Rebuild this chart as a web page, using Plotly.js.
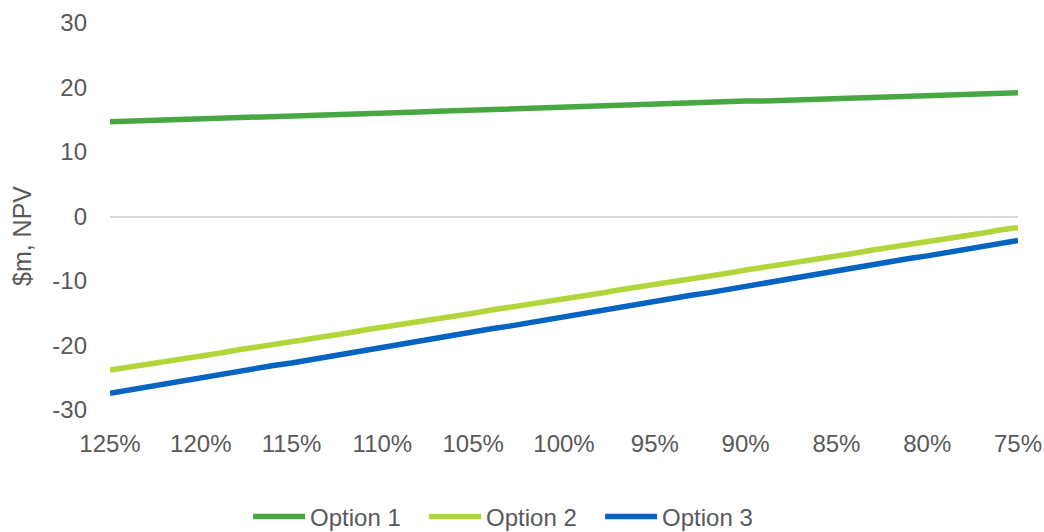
<!DOCTYPE html>
<html>
<head>
<meta charset="utf-8">
<script src="https://cdn.plot.ly/plotly-3.0.1.min.js"></script>
<style>
  html, body { margin: 0; padding: 0; background: #ffffff; }
  #chart { width: 1044px; height: 532px; }
</style>
</head>
<body>
<div id="chart"></div>
<script>
// Sensitivity of NPV to the cost/price factor, from 125% down to 75%
const factors = [
  "125%","124%","123%","122%","121%","120%","119%","118%","117%","116%",
  "115%","114%","113%","112%","111%","110%","109%","108%","107%","106%",
  "105%","104%","103%","102%","101%","100%","99%","98%","97%","96%",
  "95%","94%","93%","92%","91%","90%","89%","88%","87%","86%",
  "85%","84%","83%","82%","81%","80%","79%","78%","77%","76%","75%"
];

const option1 = [
  14.7,14.8,14.9,15.0,15.1,15.2,15.2,15.3,15.4,15.5,
  15.6,15.7,15.8,15.9,16.0,16.1,16.1,16.2,16.3,16.4,
  16.5,16.6,16.7,16.8,16.9,17.0,17.0,17.1,17.2,17.3,
  17.4,17.5,17.6,17.7,17.8,17.9,17.9,18.0,18.1,18.2,
  18.3,18.4,18.5,18.6,18.7,18.8,18.8,18.9,19.0,19.1,19.2
];

const option2 = [
  -23.8,-23.4,-22.9,-22.5,-22.0,-21.6,-21.2,-20.7,-20.3,-19.8,
  -19.4,-18.9,-18.5,-18.1,-17.6,-17.2,-16.7,-16.3,-15.8,-15.4,
  -15.0,-14.5,-14.1,-13.6,-13.2,-12.8,-12.3,-11.9,-11.4,-11.0,
  -10.5,-10.1,-9.7,-9.2,-8.8,-8.3,-7.9,-7.5,-7.0,-6.6,
  -6.1,-5.7,-5.2,-4.8,-4.4,-3.9,-3.5,-3.0,-2.6,-2.1,-1.7
];

const option3 = [
  -27.4,-26.9,-26.5,-26.0,-25.5,-25.0,-24.6,-24.1,-23.6,-23.1,
  -22.7,-22.2,-21.7,-21.2,-20.8,-20.3,-19.8,-19.3,-18.9,-18.4,
  -17.9,-17.4,-17.0,-16.5,-16.0,-15.6,-15.1,-14.6,-14.1,-13.7,
  -13.2,-12.7,-12.2,-11.8,-11.3,-10.8,-10.3,-9.9,-9.4,-8.9,
  -8.4,-8.0,-7.5,-7.0,-6.5,-6.1,-5.6,-5.1,-4.7,-4.2,-3.7
];

const tickLabels = ["125%","120%","115%","110%","105%","100%","95%","90%","85%","80%","75%"];
const yTickValues = [-30, -20, -10, 0, 10, 20, 30];
const yTickLabels = ["-30", "-20", "-10", "0", "10", "20", "30"];
const seriesNames = ["Option 1", "Option 2", "Option 3"];
const yTitle = "$m, NPV";

const textColor = "#595959";
const font = { family: "Liberation Sans, Arial, sans-serif", size: 24, color: textColor };

function lineTrace(name, values, color) {
  return {
    type: "scatter",
    mode: "lines",
    name: name,
    x: factors,
    y: values,
    line: { color: color, width: 5.5, shape: "linear" },
    cliponaxis: false,
    hoverinfo: "skip"
  };
}

const data = [
  lineTrace(seriesNames[0], option1, "#47A843"),
  lineTrace(seriesNames[1], option2, "#B2D63A"),
  lineTrace(seriesNames[2], option3, "#0563C1")
];

const layout = {
  width: 1044,
  height: 532,
  paper_bgcolor: "#ffffff",
  plot_bgcolor: "#ffffff",
  font: font,
  margin: { l: 110, r: 26, t: 23, b: 122, autoexpand: false },
  showlegend: true,
  legend: {
    orientation: "h",
    xref: "container",
    yref: "container",
    x: 0.4905,
    xanchor: "center",
    y: 15 / 532,
    yanchor: "middle",
    font: font,
    itemwidth: 52,
    entrywidth: 109,
    entrywidthmode: "pixels",
    tracegroupgap: 0,
    bgcolor: "rgba(0,0,0,0)"
  },
  // vertical axis caption, placed beside the tick labels
  annotations: [{
    text: yTitle,
    xref: "paper",
    yref: "paper",
    x: (22 - 110) / 908,
    y: (410 - 236) / 387,
    xanchor: "center",
    yanchor: "middle",
    textangle: -90,
    showarrow: false,
    font: { family: font.family, size: 25, color: textColor }
  }],
  xaxis: {
    type: "category",
    range: [0, factors.length - 1],
    tickmode: "array",
    tickvals: tickLabels,
    ticktext: tickLabels,
    showgrid: false,
    zeroline: false,
    showline: false,
    ticks: "",
    ticklabelstandoff: 17,
    tickfont: font,
    automargin: false,
    fixedrange: true
  },
  yaxis: {
    range: [-30, 30],
    tickmode: "array",
    tickvals: yTickValues,
    ticktext: yTickLabels,
    showgrid: false,
    zeroline: true,
    zerolinecolor: "#D9D9D9",
    zerolinewidth: 2,
    showline: false,
    ticks: "",
    ticklabelstandoff: 22,
    tickfont: font,
    automargin: false,
    fixedrange: true
  }
};

Plotly.newPlot("chart", data, layout, { displayModeBar: false, staticPlot: true });
</script>
</body>
</html>
